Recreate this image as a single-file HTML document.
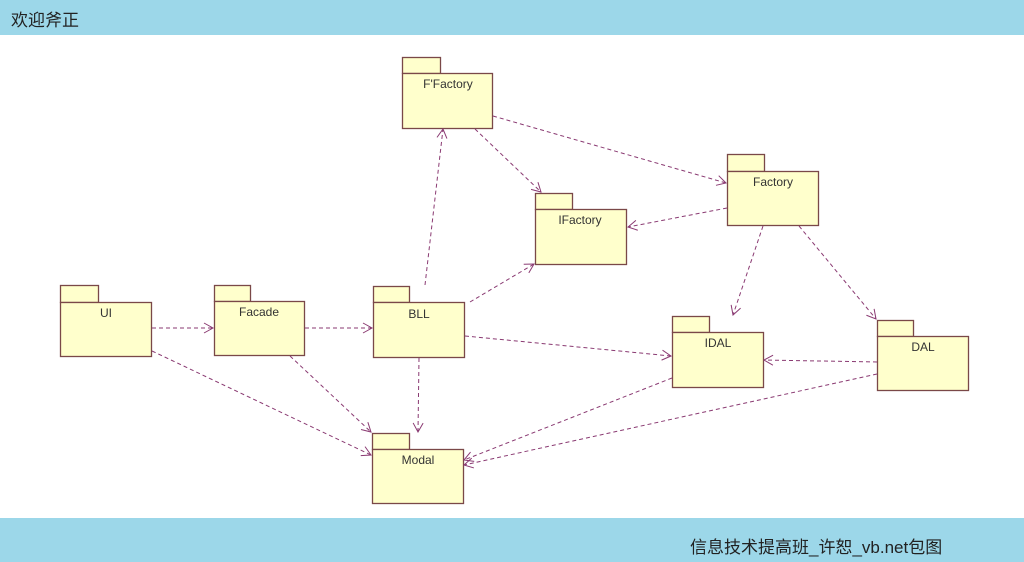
<!DOCTYPE html>
<html><head><meta charset="utf-8">
<style>
html,body{margin:0;padding:0;background:#fff;width:1024px;height:562px;overflow:hidden;}
.bar{position:absolute;left:0;width:1024px;background:#9cd7e9;font-family:"Liberation Sans","Noto Sans CJK SC",sans-serif;color:#222;}
</style></head><body>
<div class="bar" style="top:0;height:35px;"><span style="position:absolute;left:11px;top:6px;font-size:17px;">欢迎斧正</span></div>
<div class="bar" style="top:518px;height:44px;"><span style="position:absolute;left:690px;top:15px;font-size:17px;">信息技术提高班_许恕_vb.net包图</span></div>
<svg width="1024" height="562" style="position:absolute;left:0;top:0" xmlns="http://www.w3.org/2000/svg">
<defs>
<marker id="a" markerWidth="12" markerHeight="12" refX="10" refY="6" orient="auto" markerUnits="userSpaceOnUse">
<path d="M1,1 L10,6 L1,11" fill="none" stroke="#8a3a72" stroke-width="1"/>
</marker>
</defs>
<g fill="#ffffcc" stroke="#7a4848" stroke-width="1.3">
<rect x="60.5" y="285.5" width="38" height="17"/><rect x="60.5" y="302.5" width="91" height="54"/>
<rect x="214.5" y="285.5" width="36" height="16"/><rect x="214.5" y="301.5" width="90" height="54"/>
<rect x="373.5" y="286.5" width="36" height="16"/><rect x="373.5" y="302.5" width="91" height="55"/>
<rect x="402.5" y="57.5" width="38" height="16"/><rect x="402.5" y="73.5" width="90" height="55"/>
<rect x="535.5" y="193.5" width="37" height="16"/><rect x="535.5" y="209.5" width="91" height="55"/>
<rect x="727.5" y="154.5" width="37" height="17"/><rect x="727.5" y="171.5" width="91" height="54"/>
<rect x="672.5" y="316.5" width="37" height="16"/><rect x="672.5" y="332.5" width="91" height="55"/>
<rect x="877.5" y="320.5" width="36" height="16"/><rect x="877.5" y="336.5" width="91" height="54"/>
<rect x="372.5" y="433.5" width="37" height="16"/><rect x="372.5" y="449.5" width="91" height="54"/>
</g>
<g font-family="Liberation Sans,sans-serif" font-size="12" fill="#333" text-anchor="middle">
<text x="106" y="317">UI</text>
<text x="259" y="316">Facade</text>
<text x="419" y="318">BLL</text>
<text x="448" y="88">F'Factory</text>
<text x="580" y="224">IFactory</text>
<text x="773" y="186">Factory</text>
<text x="718" y="347">IDAL</text>
<text x="923" y="351">DAL</text>
<text x="418" y="464">Modal</text>
</g>
<g stroke="#8a3a72" stroke-width="1" stroke-dasharray="4,3" fill="none" marker-end="url(#a)">
<line x1="152" y1="328" x2="213" y2="328"/>
<line x1="305" y1="328" x2="372" y2="328"/>
<line x1="152" y1="351" x2="371" y2="455"/>
<line x1="290" y1="356" x2="371" y2="432"/>
<line x1="419" y1="358" x2="418" y2="432"/>
<line x1="425" y1="285" x2="443" y2="129"/>
<line x1="470" y1="302" x2="534" y2="264"/>
<line x1="465" y1="336" x2="671" y2="356"/>
<line x1="475" y1="129" x2="541" y2="192"/>
<line x1="493" y1="116" x2="726" y2="183"/>
<line x1="727" y1="208" x2="628" y2="227"/>
<line x1="763" y1="226" x2="733" y2="315"/>
<line x1="799" y1="226" x2="876" y2="319"/>
<line x1="877" y1="362" x2="764" y2="360"/>
<line x1="672" y1="378" x2="464" y2="460"/>
<line x1="877" y1="374" x2="464" y2="465"/>
</g>
</svg>
</body></html>
